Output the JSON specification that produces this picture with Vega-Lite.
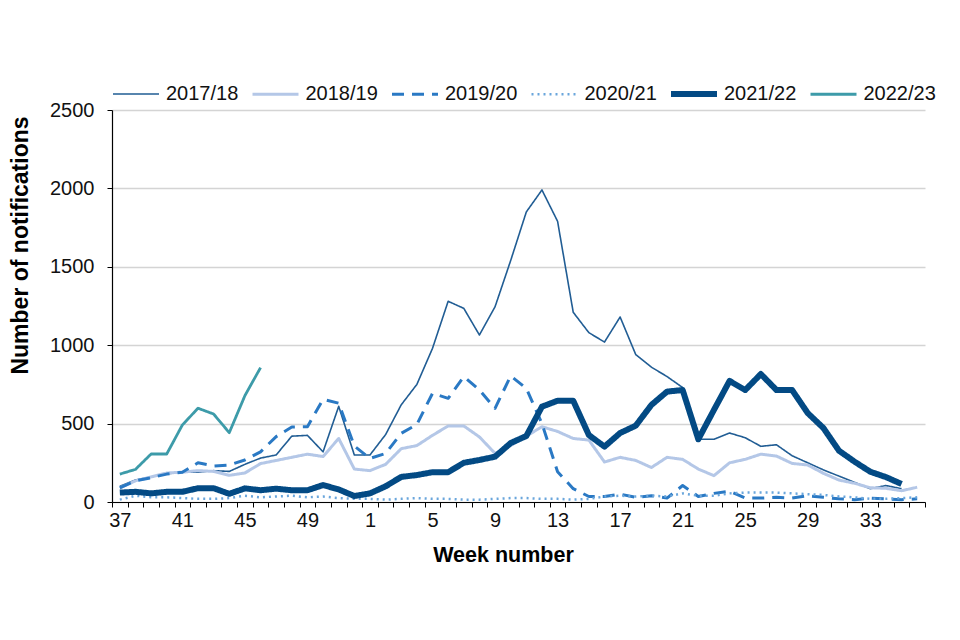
{
"$schema": "https://vega.github.io/schema/vega-lite/v6.json",
"width": 813, "height": 392,
"autosize": {"type": "none"},
"padding": {"left": 112, "top": 110, "right": 35, "bottom": 138},
"background": "white",
"config": {"font": "Liberation Sans", "view": {"stroke": null}},
"data": {"values": [
{"season":"2017/18","week":"37","count":100},{"season":"2017/18","week":"38","count":140},{"season":"2017/18","week":"39","count":160},{"season":"2017/18","week":"40","count":180},{"season":"2017/18","week":"41","count":190},{"season":"2017/18","week":"42","count":190},{"season":"2017/18","week":"43","count":200},{"season":"2017/18","week":"44","count":195},{"season":"2017/18","week":"45","count":240},{"season":"2017/18","week":"46","count":280},{"season":"2017/18","week":"47","count":300},{"season":"2017/18","week":"48","count":420},{"season":"2017/18","week":"49","count":425},{"season":"2017/18","week":"50","count":320},{"season":"2017/18","week":"51","count":610},{"season":"2017/18","week":"52","count":300},{"season":"2017/18","week":"1","count":300},{"season":"2017/18","week":"2","count":430},{"season":"2017/18","week":"3","count":620},{"season":"2017/18","week":"4","count":750},{"season":"2017/18","week":"5","count":980},{"season":"2017/18","week":"6","count":1280},{"season":"2017/18","week":"7","count":1235},{"season":"2017/18","week":"8","count":1065},{"season":"2017/18","week":"9","count":1245},{"season":"2017/18","week":"10","count":1540},{"season":"2017/18","week":"11","count":1850},{"season":"2017/18","week":"12","count":1990},{"season":"2017/18","week":"13","count":1790},{"season":"2017/18","week":"14","count":1210},{"season":"2017/18","week":"15","count":1080},{"season":"2017/18","week":"16","count":1020},{"season":"2017/18","week":"17","count":1180},{"season":"2017/18","week":"18","count":940},{"season":"2017/18","week":"19","count":860},{"season":"2017/18","week":"20","count":800},{"season":"2017/18","week":"21","count":730},{"season":"2017/18","week":"22","count":400},{"season":"2017/18","week":"23","count":400},{"season":"2017/18","week":"24","count":440},{"season":"2017/18","week":"25","count":410},{"season":"2017/18","week":"26","count":355},{"season":"2017/18","week":"27","count":365},{"season":"2017/18","week":"28","count":295},{"season":"2017/18","week":"29","count":250},{"season":"2017/18","week":"30","count":205},{"season":"2017/18","week":"31","count":165},{"season":"2017/18","week":"32","count":125},{"season":"2017/18","week":"33","count":85},{"season":"2017/18","week":"34","count":105},{"season":"2017/18","week":"35","count":85},
{"season":"2018/19","week":"37","count":90},{"season":"2018/19","week":"38","count":135},{"season":"2018/19","week":"39","count":160},{"season":"2018/19","week":"40","count":185},{"season":"2018/19","week":"41","count":190},{"season":"2018/19","week":"42","count":200},{"season":"2018/19","week":"43","count":195},{"season":"2018/19","week":"44","count":170},{"season":"2018/19","week":"45","count":185},{"season":"2018/19","week":"46","count":245},{"season":"2018/19","week":"47","count":265},{"season":"2018/19","week":"48","count":285},{"season":"2018/19","week":"49","count":305},{"season":"2018/19","week":"50","count":290},{"season":"2018/19","week":"51","count":405},{"season":"2018/19","week":"52","count":210},{"season":"2018/19","week":"1","count":200},{"season":"2018/19","week":"2","count":240},{"season":"2018/19","week":"3","count":340},{"season":"2018/19","week":"4","count":360},{"season":"2018/19","week":"5","count":425},{"season":"2018/19","week":"6","count":485},{"season":"2018/19","week":"7","count":485},{"season":"2018/19","week":"8","count":415},{"season":"2018/19","week":"9","count":310},{"season":"2018/19","week":"10","count":360},{"season":"2018/19","week":"11","count":420},{"season":"2018/19","week":"12","count":480},{"season":"2018/19","week":"13","count":450},{"season":"2018/19","week":"14","count":405},{"season":"2018/19","week":"15","count":395},{"season":"2018/19","week":"16","count":255},{"season":"2018/19","week":"17","count":285},{"season":"2018/19","week":"18","count":265},{"season":"2018/19","week":"19","count":220},{"season":"2018/19","week":"20","count":285},{"season":"2018/19","week":"21","count":272},{"season":"2018/19","week":"22","count":210},{"season":"2018/19","week":"23","count":168},{"season":"2018/19","week":"24","count":250},{"season":"2018/19","week":"25","count":272},{"season":"2018/19","week":"26","count":305},{"season":"2018/19","week":"27","count":293},{"season":"2018/19","week":"28","count":246},{"season":"2018/19","week":"29","count":236},{"season":"2018/19","week":"30","count":183},{"season":"2018/19","week":"31","count":140},{"season":"2018/19","week":"32","count":119},{"season":"2018/19","week":"33","count":91},{"season":"2018/19","week":"34","count":87},{"season":"2018/19","week":"35","count":72},{"season":"2018/19","week":"36","count":94},
{"season":"2019/20","week":"37","count":90},{"season":"2019/20","week":"38","count":135},{"season":"2019/20","week":"39","count":155},{"season":"2019/20","week":"40","count":178},{"season":"2019/20","week":"41","count":190},{"season":"2019/20","week":"42","count":250},{"season":"2019/20","week":"43","count":230},{"season":"2019/20","week":"44","count":236},{"season":"2019/20","week":"45","count":268},{"season":"2019/20","week":"46","count":320},{"season":"2019/20","week":"47","count":417},{"season":"2019/20","week":"48","count":478},{"season":"2019/20","week":"49","count":480},{"season":"2019/20","week":"50","count":655},{"season":"2019/20","week":"51","count":630},{"season":"2019/20","week":"52","count":357},{"season":"2019/20","week":"1","count":278},{"season":"2019/20","week":"2","count":310},{"season":"2019/20","week":"3","count":438},{"season":"2019/20","week":"4","count":495},{"season":"2019/20","week":"5","count":693},{"season":"2019/20","week":"6","count":661},{"season":"2019/20","week":"7","count":800},{"season":"2019/20","week":"8","count":714},{"season":"2019/20","week":"9","count":597},{"season":"2019/20","week":"10","count":804},{"season":"2019/20","week":"11","count":725},{"season":"2019/20","week":"12","count":500},{"season":"2019/20","week":"13","count":193},{"season":"2019/20","week":"14","count":85},{"season":"2019/20","week":"15","count":35},{"season":"2019/20","week":"16","count":35},{"season":"2019/20","week":"17","count":50},{"season":"2019/20","week":"18","count":30},{"season":"2019/20","week":"19","count":40},{"season":"2019/20","week":"20","count":25},{"season":"2019/20","week":"21","count":105},{"season":"2019/20","week":"22","count":35},{"season":"2019/20","week":"23","count":55},{"season":"2019/20","week":"24","count":68},{"season":"2019/20","week":"25","count":25},{"season":"2019/20","week":"26","count":25},{"season":"2019/20","week":"27","count":30},{"season":"2019/20","week":"28","count":25},{"season":"2019/20","week":"29","count":40},{"season":"2019/20","week":"30","count":30},{"season":"2019/20","week":"31","count":20},{"season":"2019/20","week":"32","count":15},{"season":"2019/20","week":"33","count":25},{"season":"2019/20","week":"34","count":20},{"season":"2019/20","week":"35","count":15},{"season":"2019/20","week":"36","count":20},
{"season":"2020/21","week":"37","count":15},{"season":"2020/21","week":"38","count":40},{"season":"2020/21","week":"39","count":30},{"season":"2020/21","week":"40","count":30},{"season":"2020/21","week":"41","count":25},{"season":"2020/21","week":"42","count":20},{"season":"2020/21","week":"43","count":20},{"season":"2020/21","week":"44","count":25},{"season":"2020/21","week":"45","count":40},{"season":"2020/21","week":"46","count":30},{"season":"2020/21","week":"47","count":35},{"season":"2020/21","week":"48","count":40},{"season":"2020/21","week":"49","count":30},{"season":"2020/21","week":"50","count":35},{"season":"2020/21","week":"51","count":25},{"season":"2020/21","week":"52","count":20},{"season":"2020/21","week":"1","count":20},{"season":"2020/21","week":"2","count":15},{"season":"2020/21","week":"3","count":20},{"season":"2020/21","week":"4","count":25},{"season":"2020/21","week":"5","count":20},{"season":"2020/21","week":"6","count":20},{"season":"2020/21","week":"7","count":15},{"season":"2020/21","week":"8","count":15},{"season":"2020/21","week":"9","count":20},{"season":"2020/21","week":"10","count":25},{"season":"2020/21","week":"11","count":25},{"season":"2020/21","week":"12","count":20},{"season":"2020/21","week":"13","count":20},{"season":"2020/21","week":"14","count":15},{"season":"2020/21","week":"15","count":20},{"season":"2020/21","week":"16","count":35},{"season":"2020/21","week":"17","count":40},{"season":"2020/21","week":"18","count":35},{"season":"2020/21","week":"19","count":40},{"season":"2020/21","week":"20","count":35},{"season":"2020/21","week":"21","count":55},{"season":"2020/21","week":"22","count":40},{"season":"2020/21","week":"23","count":40},{"season":"2020/21","week":"24","count":55},{"season":"2020/21","week":"25","count":60},{"season":"2020/21","week":"26","count":60},{"season":"2020/21","week":"27","count":60},{"season":"2020/21","week":"28","count":55},{"season":"2020/21","week":"29","count":50},{"season":"2020/21","week":"30","count":45},{"season":"2020/21","week":"31","count":35},{"season":"2020/21","week":"32","count":30},{"season":"2020/21","week":"33","count":20},{"season":"2020/21","week":"34","count":20},{"season":"2020/21","week":"35","count":25},{"season":"2020/21","week":"36","count":30},
{"season":"2021/22","week":"37","count":60},{"season":"2021/22","week":"38","count":65},{"season":"2021/22","week":"39","count":55},{"season":"2021/22","week":"40","count":65},{"season":"2021/22","week":"41","count":65},{"season":"2021/22","week":"42","count":88},{"season":"2021/22","week":"43","count":88},{"season":"2021/22","week":"44","count":52},{"season":"2021/22","week":"45","count":87},{"season":"2021/22","week":"46","count":75},{"season":"2021/22","week":"47","count":85},{"season":"2021/22","week":"48","count":75},{"season":"2021/22","week":"49","count":75},{"season":"2021/22","week":"50","count":108},{"season":"2021/22","week":"51","count":80},{"season":"2021/22","week":"52","count":38},{"season":"2021/22","week":"1","count":55},{"season":"2021/22","week":"2","count":100},{"season":"2021/22","week":"3","count":160},{"season":"2021/22","week":"4","count":172},{"season":"2021/22","week":"5","count":190},{"season":"2021/22","week":"6","count":190},{"season":"2021/22","week":"7","count":250},{"season":"2021/22","week":"8","count":268},{"season":"2021/22","week":"9","count":289},{"season":"2021/22","week":"10","count":376},{"season":"2021/22","week":"11","count":421},{"season":"2021/22","week":"12","count":608},{"season":"2021/22","week":"13","count":646},{"season":"2021/22","week":"14","count":646},{"season":"2021/22","week":"15","count":427},{"season":"2021/22","week":"16","count":353},{"season":"2021/22","week":"17","count":440},{"season":"2021/22","week":"18","count":487},{"season":"2021/22","week":"19","count":619},{"season":"2021/22","week":"20","count":704},{"season":"2021/22","week":"21","count":714},{"season":"2021/22","week":"22","count":400},{"season":"2021/22","week":"23","count":587},{"season":"2021/22","week":"24","count":772},{"season":"2021/22","week":"25","count":714},{"season":"2021/22","week":"26","count":816},{"season":"2021/22","week":"27","count":714},{"season":"2021/22","week":"28","count":714},{"season":"2021/22","week":"29","count":567},{"season":"2021/22","week":"30","count":472},{"season":"2021/22","week":"31","count":327},{"season":"2021/22","week":"32","count":257},{"season":"2021/22","week":"33","count":193},{"season":"2021/22","week":"34","count":159},{"season":"2021/22","week":"35","count":115},
{"season":"2022/23","week":"37","count":178},{"season":"2022/23","week":"38","count":208},{"season":"2022/23","week":"39","count":306},{"season":"2022/23","week":"40","count":306},{"season":"2022/23","week":"41","count":491},{"season":"2022/23","week":"42","count":598},{"season":"2022/23","week":"43","count":561},{"season":"2022/23","week":"44","count":442},{"season":"2022/23","week":"45","count":678},{"season":"2022/23","week":"46","count":857}
]},
"mark": {"type": "line", "strokeJoin": "round"},
"encoding": {
"x": {"field": "week", "type": "ordinal",
 "sort": ["37","38","39","40","41","42","43","44","45","46","47","48","49","50","51","52","1","2","3","4","5","6","7","8","9","10","11","12","13","14","15","16","17","18","19","20","21","22","23","24","25","26","27","28","29","30","31","32","33","34","35","36"],
 "scale": {"type": "band", "paddingInner": 0, "paddingOuter": 0},
 "bandPosition": 0.5,
 "axis": {"title": "Week number", "titleFontSize": 21.5, "titleFontWeight": "bold", "titleColor": "#000", "titleX": 391, "titleY": 53, "titleBaseline": "middle", "titleAlign": "center",
  "labelAngle": 0, "labelFontSize": 20, "labelColor": "#111", "labelOverlap": false, "labelPadding": 3,
  "labelExpr": "indexof(['37','41','45','49','1','5','9','13','17','21','25','29','33'], datum.label) >= 0 ? datum.label : ''",
  "tickBand": "extent", "tickSize": 5, "tickColor": "#000", "domainColor": "#000", "domainWidth": 1.2, "grid": false}},
"y": {"field": "count", "type": "quantitative",
 "scale": {"domain": [0, 2500], "nice": false},
 "axis": {"title": "Number of notifications", "titleFontSize": 23, "titleFontWeight": "bold", "titleColor": "#000", "titleX": -80, "titleY": 135, "titleAlign": "center", "titleAngle": 270,
  "values": [0, 500, 1000, 1500, 2000, 2500], "format": "d", "labelFontSize": 20, "labelColor": "#111", "labelPadding": 13,
  "tickSize": 5, "tickColor": "#000", "domainColor": "#000", "domainWidth": 1.2,
  "grid": true, "gridColor": "#d4d4d4", "gridWidth": 1.3}},
"color": {"field": "season", "type": "nominal",
 "scale": {"domain": ["2017/18","2018/19","2019/20","2020/21","2021/22","2022/23"], "range": ["#215d94","#b4c7e7","#2a79c4","#6aa6dc","#034a84","#3d9ba9"]},
 "legend": {"orient": "none", "legendX": -2, "legendY": -42, "direction": "horizontal", "columns": 6, "gridAlign": "all", "columnPadding": 1.5, "padding": 0, "title": null, "symbolType": "stroke", "symbolSize": 2116, "labelFontSize": 20, "labelColor": "#111", "labelOffset": 4}},
"strokeDash": {"field": "season", "type": "nominal",
 "scale": {"domain": ["2017/18","2018/19","2019/20","2020/21","2021/22","2022/23"], "range": [[1,0],[1,0],[12,8],[2,4],[1,0],[1,0]]}},
"strokeWidth": {"field": "season", "type": "nominal",
 "scale": {"type": "ordinal", "domain": ["2017/18","2018/19","2019/20","2020/21","2021/22","2022/23"], "range": [1.6, 3, 3, 2.5, 6, 2.8]}}
}
}
